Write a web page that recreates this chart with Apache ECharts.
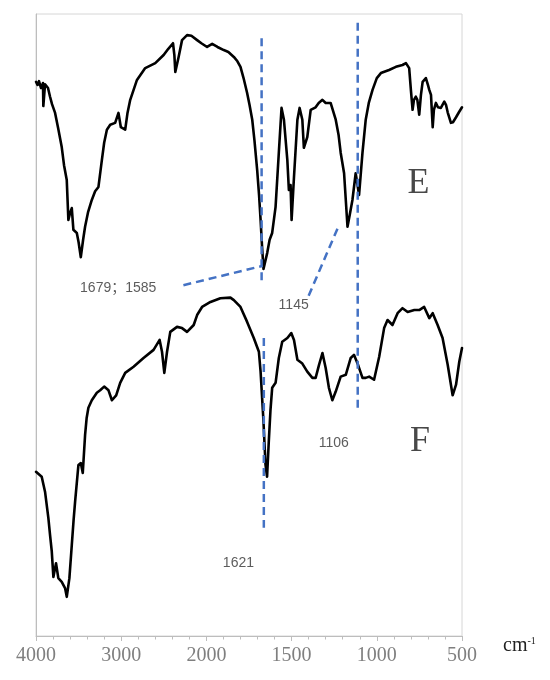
<!DOCTYPE html>
<html>
<head>
<meta charset="utf-8">
<script src="https://cdn.jsdelivr.net/npm/echarts@6/dist/echarts.min.js"></script>
<style>html,body{margin:0;padding:0;background:#fff}#c{width:550px;height:680px}</style>
</head>
<body>
<div id="c"></div>
<script>
// x tick labels (wavenumber, cm-1); the axis scale changes at 2000
const tickLabels = ['4000', '3000', '2000', '1500', '1000', '500'];

// Spectrum E: wavenumber and transmittance (a.u.)
const eWave = [4000,3982,3965,3941,3918,3914,3894,3859,3835,3812,
  3776,3741,3698,3671,3639,3620,3600,3580,3561,3521,
  3500,3474,3447,3424,3388,3345,3306,3267,3227,3200,
  3168,3129,3071,3032,3004,2953,2926,2894,2815,2718,
  2600,2502,2447,2392,2376,2365,2326,2286,2227,2176,
  2109,2059,1996,1966,1935,1898,1871,1839,1818,1800,
  1782,1761,1747,1731,1718,1702,1691,1682,1674,1665,
  1643,1629,1614,1594,1575,1559,1545,1525,1516,1506,
  1500,1486,1466,1453,1437,1428,1408,1388,1359,1341,
  1319,1300,1271,1241,1224,1212,1192,1182,1172,1159,
  1143,1124,1104,1084,1065,1047,1025,1000,976,928,
  888,849,829,810,800,790,782,771,762,751,
  741,731,712,700,692,682,672,665,653,641,
  624,604,594,584,565,553,535,518,500];
const eT = [89.1,88.6,89.2,88.1,88.9,85.2,88.7,88.1,86.7,85.5,
  84.1,81.7,78.6,75.7,73.3,66.9,68.0,68.8,65.3,64.8,
  63.3,60.9,63.7,65.8,68.2,70.1,71.5,72.2,76.5,79.3,
  81.4,82.2,82.5,84.1,81.8,81.4,84.1,86.2,89.4,91.3,
  92.1,93.4,94.4,95.3,93.4,90.7,93.1,95.8,96.6,96.5,
  95.8,95.3,94.7,95.2,94.7,94.2,93.9,93.1,92.4,91.5,
  89.7,87.3,85.4,83.0,79.7,74.9,70.9,66.9,62.9,59.0,
  61.6,63.7,64.8,69.0,77.7,84.9,83.0,76.5,71.7,72.5,
  66.9,73.8,83.0,84.9,83.0,78.5,80.2,84.6,85.0,85.7,
  86.2,85.7,85.7,83.0,80.5,77.7,74.4,70.1,65.8,67.7,
  70.1,74.4,70.9,77.7,83.0,85.7,87.8,89.7,90.5,91.0,
  91.5,91.8,92.1,91.3,87.8,84.6,86.2,86.7,86.2,83.8,
  87.0,89.1,89.7,88.6,87.8,87.0,81.8,84.6,85.7,85.0,
  84.9,85.9,85.4,84.2,82.5,82.6,83.4,84.2,85.0];

// Spectrum F
const fWave = [4000,3933,3894,3855,3835,3815,3796,3765,3738,3698,
  3679,3659,3639,3608,3580,3559,3541,3502,3474,3451,
  3424,3406,3385,3345,3286,3247,3200,3149,3109,3059,
  3012,2953,2855,2738,2620,2549,2521,2494,2462,2424,
  2345,2286,2227,2149,2109,2051,1976,1918,1859,1839,
  1800,1761,1722,1692,1682,1666,1653,1644,1634,1624,
  1614,1594,1575,1555,1525,1502,1486,1466,1437,1408,
  1378,1359,1339,1319,1300,1281,1261,1241,1212,1182,
  1153,1134,1110,1084,1065,1045,1016,986,957,937,
  908,878,849,819,780,751,722,692,672,643,
  614,584,555,535,516,500];
const fT = [26.4,25.6,23.2,19.0,16.2,13.6,9.5,11.7,9.3,8.7,
  9.0,7.7,6.3,9.3,14.6,18.6,21.6,27.5,27.8,26.2,
  32.3,35.0,36.7,37.9,39.1,39.5,40.1,39.5,37.9,38.7,
  40.7,42.3,43.3,44.7,46.0,47.6,45.7,42.3,45.7,48.9,
  49.7,49.5,48.9,50.0,51.6,52.9,53.7,54.3,54.4,54.0,
  52.9,50.5,47.9,45.7,42.5,35.0,27.5,25.6,31.2,36.3,
  39.9,40.7,44.7,47.3,47.9,48.7,47.6,44.4,43.8,42.5,
  41.5,41.5,43.6,45.5,43.1,39.9,37.9,39.3,41.7,42.0,
  44.7,45.2,43.6,41.5,41.5,41.7,41.2,44.9,49.5,50.8,
  50.0,51.9,52.7,52.1,52.4,52.4,52.9,51.1,51.9,50.0,
  47.9,43.6,38.7,40.4,44.1,46.3];

// Blue dashed guide lines: [[wave, T], [wave, T]]
const guide1679 = [[1676, 96.1], [1676, 57.2]];
const guide1621 = [[1663, 47.9], [1663, 17.4]];
const guide1106 = [[1112, 98.6], [1112, 36.0]];
const leader1679 = [[2270, 56.4], [1671, 59.5]];
const leader1145 = [[1400, 54.7], [1229, 65.6]];

// Annotation texts: [text, wave, T]
const peakNotes = [['1679；1585', 3035, 55.9], ['1145', 1488, 53.2], ['1106', 1253, 31.0], ['1621', 1812, 11.7]];
const curveNames = [['E', 756, 72.7], ['F', 747, 31.2]];

// piecewise-linear wavenumber axis (4000-2000 compressed, 2000-500 expanded)
function pos(w) { return w >= 2000 ? (4000 - w) / 1000 : 2 + (2000 - w) / 500; }
function pts(ws, ts) { return ws.map((w, i) => [pos(w), ts[i]]); }
function seg(p) { return p.map(q => [pos(q[0]), q[1]]); }

const chart = echarts.init(document.getElementById('c'), null, {renderer: 'canvas'});
const spec = (name, data) => ({
  name, type: 'line', data, symbol: 'none', smooth: false, z: 3,
  lineStyle: {color: '#000', width: 2.6, join: 'round', cap: 'round'}
});
const dash = data => ({
  type: 'line', data: seg(data), symbol: 'none', z: 5, silent: true,
  lineStyle: {color: '#4472c4', width: 2.5, type: [8, 5]}
});
const noteSeries = (items, style) => ({
  type: 'scatter', symbolSize: 1, z: 6, silent: true,
  itemStyle: {color: 'rgba(0,0,0,0)'},
  data: items.map(a => ({name: a[0], value: [pos(a[1]), a[2]]})),
  label: Object.assign({show: true, position: 'inside', formatter: p => p.name}, style)
});

chart.setOption({
  animation: false,
  backgroundColor: '#fff',
  grid: {left: 36, right: 88, top: 14, bottom: 44, show: true, borderColor: '#d6d6d6', borderWidth: 1},
  xAxis: {
    type: 'value', min: 0, max: 5, interval: 1,
    axisLine: {show: true, lineStyle: {color: '#bdbdbd', width: 1}},
    axisTick: {show: true, length: 5, lineStyle: {color: '#bdbdbd'}},
    minorTick: {show: true, splitNumber: 5, length: 3.5, lineStyle: {color: '#bdbdbd'}},
    splitLine: {show: false},
    axisLabel: {
      formatter: v => tickLabels[Math.round(v)], margin: 10,
      fontFamily: 'Liberation Serif', fontSize: 20, color: '#7f7f7f'
    },
    name: '{a|cm}{b|-1}', nameLocation: 'end', nameGap: 41,
    nameTextStyle: {
      verticalAlign: 'top', align: 'left',
      rich: {
        a: {fontFamily: 'Liberation Serif', fontSize: 20, lineHeight: 20, color: '#222', verticalAlign: 'top'},
        b: {fontFamily: 'Liberation Serif', fontSize: 10, lineHeight: 10, color: '#222', verticalAlign: 'top'}
      }
    }
  },
  yAxis: {
    type: 'value', min: 0, max: 100,
    axisLine: {show: true, lineStyle: {color: '#bdbdbd'}},
    axisTick: {show: false}, axisLabel: {show: false}, splitLine: {show: false}
  },
  series: [
    spec('E', pts(eWave, eT)),
    spec('F', pts(fWave, fT)),
    dash(guide1679), dash(guide1621), dash(guide1106), dash(leader1679), dash(leader1145),
    noteSeries(peakNotes, {fontFamily: 'Liberation Sans, Noto Sans CJK SC', fontSize: 14, color: '#333'}),
    noteSeries(curveNames, {fontFamily: 'Liberation Serif', fontSize: 36, color: '#1a1a1a'})
  ]
});
</script>
</body>
</html>
